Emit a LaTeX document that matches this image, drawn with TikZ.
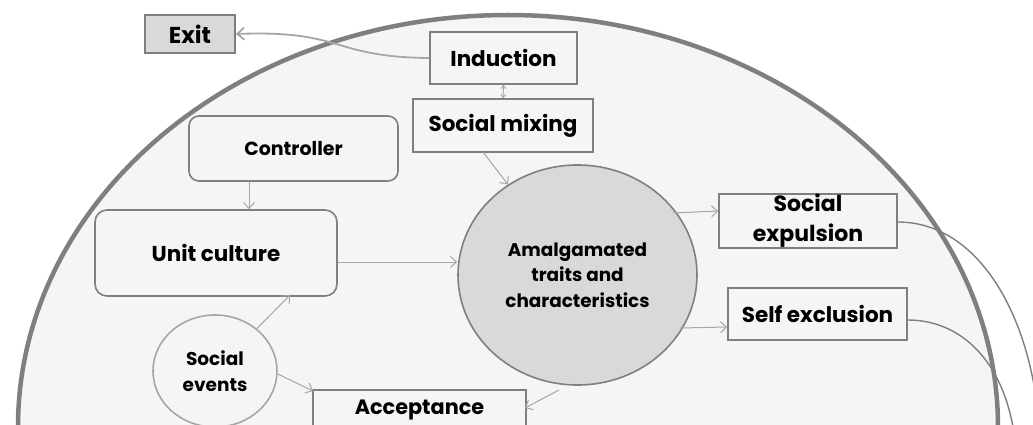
\documentclass[tikz,border=0pt]{standalone}
\usepackage{fontspec}
\setmainfont{Poppins}
\usetikzlibrary{arrows.meta,shapes.geometric}
\definecolor{bgfill}{HTML}{F5F5F5}
\definecolor{darkfill}{HTML}{D9D9D9}
\definecolor{edge}{HTML}{7F7F7F}
\definecolor{arr}{HTML}{A6A6A6}
\tikzset{
  box/.style={draw=edge, line width=1.6pt, fill=bgfill, inner sep=0pt, align=center, font=\bfseries\fontsize{21.5}{25}\selectfont},
  rbox/.style={box, rounded corners=10pt},
  oval/.style={ellipse, draw=edge, line width=1.6pt, fill=darkfill, inner sep=0pt, align=center, font=\bfseries\fontsize{18.4}{25.5}\selectfont},
  conn/.style={draw=arr, line width=1pt, -{Straight Barb[length=6pt,width=11pt]}},
  outcurve/.style={draw=edge, line width=1.4pt}
}
\begin{document}
\begin{tikzpicture}[x=1pt,y=-1pt]
\useasboundingbox (0,0) rectangle (1033,425);
\clip (0,0) rectangle (1033,425);
\fill[white] (0,0) rectangle (1033,425);
% big ellipse
\draw[edge, line width=4.5pt, fill=bgfill] (508,427) ellipse [x radius=490, y radius=412];

\node[box, fill=darkfill, minimum width=90pt, minimum height=38pt, font=\bfseries\fontsize{23}{26}\selectfont] (exit) at (190,34) {Exit};
\node[box, minimum width=147pt, minimum height=52pt] (ind) at (503.5,58) {Induction};
\node[box, minimum width=180pt, minimum height=53pt] (mix) at (503,125.5) {Social mixing};
\node[rbox, minimum width=209pt, minimum height=65pt, font=\bfseries\fontsize{19}{22}\selectfont] (ctrl) at (293.5,148.5) {Controller};
\node[rbox, minimum width=242pt, minimum height=86pt, rounded corners=12pt] (unit) at (216,253) {Unit culture};
\node[oval, minimum width=239pt, minimum height=220pt] (amal) at (577.5,275) {Amalgamated\\traits and\\characteristics};
\node[box, minimum width=178pt, minimum height=52pt, font=\bfseries\fontsize{22}{30}\selectfont] (expul) at (808,221) {Social\\expulsion};
\node[box, minimum width=179pt, minimum height=52pt] (selfx) at (817.5,314) {Self exclusion};
\node[box, minimum width=213pt, minimum height=40pt, font=\bfseries\fontsize{20.8}{24}\selectfont] (acc) at (419.5,410) {Acceptance};
\node[oval, fill=bgfill, draw=arr, minimum width=124pt, minimum height=112pt, font=\bfseries\fontsize{18.5}{26}\selectfont] (events) at (215,371) {Social\\events};

% connectors
\draw[draw=arr, line width=1.8pt, -{Straight Barb[length=7pt,width=12pt]}] (ind.west) .. controls (330,57) and (345,30) .. (exit.east);
\draw[draw=arr, line width=1pt, {Straight Barb[length=3pt,width=5pt]}-{Straight Barb[length=3pt,width=5pt]}] (ind.south) -- (mix.north);
\draw[conn] (483,152) -- (amal);
\draw[conn] (ctrl.south -| 249,0) -- (unit.north -| 249,0);
\draw[conn] (unit.east |- 0,262) -- (amal.west |- 0,262);
\draw[conn] (673,213) -- (expul.west |- 0,211);
\draw[conn] (680,328) -- (selfx.west |- 0,327);
\draw[conn] (559,390) -- (525,408);
\draw[conn] (events) -- (290,295);
\draw[conn] (events.east |- 0,374) -- (313,391);

% outgoing curves
\draw[outcurve] (expul.east |- 0,222) .. controls (980,222) and (1035,320) .. (1040,440);
\draw[outcurve] (selfx.east |- 0,320) .. controls (960,320) and (1005,360) .. (1015,440);
\end{tikzpicture}
\end{document}
